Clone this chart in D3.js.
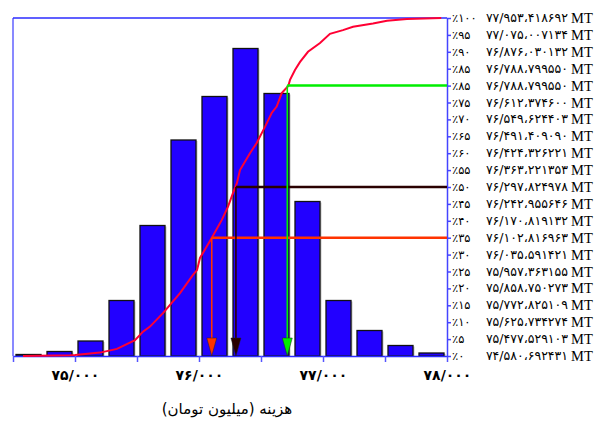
<!DOCTYPE html>
<html><head><meta charset="utf-8">
<script src="https://cdn.jsdelivr.net/npm/d3@7/dist/d3.min.js"></script>
<style>body{margin:0;background:#fff;} svg{display:block}</style>
</head><body>
<svg id="chart" width="602" height="423"></svg>
<script>
// ---- data ----
const binStart = [74500,74750,75000,75250,75500,75750,76000,76250,76500,76750,77000,77250,77500,77750];
const binEnd   = [74750,75000,75250,75500,75750,76000,76250,76500,76750,77000,77250,77500,77750,78000];
const binCount = [1,3,10,37,87,144,173,205,175,103,37,17,7,2];

const cdfCost = [74580.7,74960,75000,75201.6,75338.7,75483.9,75548.4,75604.8,75709.7,75846.8,75951.6,75983.9,76008,76102.4,76183,76233.9,76274,76306,76330.6,76411,76465,76532,76586,76626.5,76667,76720,76734,76774,76815,76879,76976,77056,77161,77242,77403,77516,77677,77953.4];
const cdfPct  = [0,0.2,0.3,1.0,2.1,4.7,7.2,8.7,12.7,18.6,24.0,25.4,29,34.9,40.2,44.2,48.2,51.2,55,60,63,67.8,71.9,73.8,77.8,79.9,81.7,84.6,87,90,92.6,95.3,96.4,97.4,98.4,99.2,99.7,100];

const pctLevels = [100,95,90,85,80,75,70,65,60,55,50,45,40,35,30,25,20,15,10,5,0];
const pctText   = [100,95,90,85,85,75,70,65,60,55,50,45,40,35,30,25,20,15,10,5,0];
const pctValue  = [77953.418692,77075.007134,76876.030132,76788.799550,76788.799550,76612.374600,76549.624403,76491.409090,76424.326221,76363.221353,76297.824978,76242.955646,76170.819132,76102.816963,76035.591421,75957.363155,75858.750273,75772.825109,75625.734274,75477.529103,74580.692431];

const markerPct   = [35,50,80];
const markerCost  = [76102.8,76297.8,76712];
const markerColor = ["#ff3300","#2a0000","#00ee00"];

const xTicks  = [74500,75000,75500,76000,76500,77000,77500,78000];
const xLabels = [75000,76000,77000,78000];
const xTitle  = "هزینه (میلیون تومان)";
const unitText = "MT";

// ---- helpers ----
const faDigits = "۰۱۲۳۴۵۶۷۸۹";
const fa = s => String(s).replace(/\d/g, d => faDigits[+d]);
const fmtVal = v => { const [i,f] = v.toFixed(6).split("."); return fa(i.slice(0,-3) + "/" + i.slice(-3) + "،" + f); };
const fmtX = d => fa(Math.floor(d/1000) + "/" + String(d%1000).padStart(3,"0"));

// ---- layout ----
const L = 13, R = 447, T = 18, B = 356;
const frameColor = "#2b2bff";
const svg = d3.select("#chart");
const x = d3.scaleLinear().domain([74500,78000]).range([L,R]);
const yP = d3.scaleLinear().domain([0,100]).range([B,T]);
const yC = d3.scaleLinear().domain([0,225.33]).range([B,T]);

// frame
svg.append("line").attr("x1",L).attr("x2",L).attr("y1",T).attr("y2",B)
  .attr("stroke","#6262ff").attr("stroke-width",1.5);
svg.append("line").attr("x1",L).attr("x2",R).attr("y1",T).attr("y2",T)
  .attr("stroke",frameColor).attr("stroke-width",1.5);

// bars
const bars = binStart.map((s,i)=>({s, e: binEnd[i], c: binCount[i]}));
svg.append("g").selectAll("rect.sh").data(bars).join("rect")
  .attr("x", d => x(d.s)+4.5).attr("y", d => yC(d.c)+1)
  .attr("width", d => x(d.e)-x(d.s)-6).attr("height", d => B-yC(d.c))
  .attr("fill","#c4c4c4");
svg.append("g").selectAll("rect.bar").data(bars).join("rect")
  .attr("x", d => x(d.s)+3).attr("y", d => yC(d.c))
  .attr("width", d => x(d.e)-x(d.s)-6).attr("height", d => B-yC(d.c))
  .attr("fill","#2200ff").attr("stroke","#111").attr("stroke-width",1.3);

// bottom axis
const gx = svg.append("g").attr("transform",`translate(0,${B})`)
  .call(d3.axisBottom(x).tickValues(xTicks).tickSize(6).tickSizeOuter(0)
    .tickFormat(d => xLabels.includes(d) ? fmtX(d) : ""));
gx.select(".domain").attr("stroke",frameColor).attr("stroke-width",1.5);
gx.selectAll(".tick line").attr("stroke","#5555ff").attr("stroke-width",1.5);
gx.selectAll(".tick text").attr("font-family","DejaVu Sans").attr("font-size",14)
  .attr("font-weight","bold").attr("fill","#000").attr("dy","1.05em").attr("letter-spacing","1.5px");

// right axis
const gy = svg.append("g").attr("transform",`translate(${R},0)`)
  .call(d3.axisRight(yP).tickValues(pctLevels).tickSize(4).tickSizeOuter(0).tickFormat(""));
gy.select(".domain").attr("stroke","#4444ff").attr("stroke-width",1.5);
gy.selectAll(".tick line").attr("stroke","#4444ff").attr("stroke-width",1.5);

// cdf curve
const line = d3.line().x(d => x(d[0])).y(d => yP(d[1]));
svg.append("path").datum(cdfCost.map((c,i)=>[c,cdfPct[i]]))
  .attr("d", line).attr("fill","none").attr("stroke","#ff0033").attr("stroke-width",2);

// markers
markerPct.forEach((p,i) => {
  const mx = x(markerCost[i]), my = yP(p), col = markerColor[i];
  svg.append("line").attr("x1",mx).attr("x2",R).attr("y1",my).attr("y2",my)
    .attr("stroke",col).attr("stroke-width",2.5);
  svg.append("line").attr("x1",mx).attr("x2",mx).attr("y1",my).attr("y2",B-14)
    .attr("stroke",col).attr("stroke-width",1.6);
  svg.append("path").attr("d",`M${mx-5},${B-18} L${mx+5},${B-18} L${mx},${B} Z`)
    .attr("fill",col).attr("stroke","#222").attr("stroke-width",0.5);
});

// right labels
const rl = svg.append("g");
pctLevels.forEach((lv,i) => {
  const yy = yP(lv) + 4;
  rl.append("text").attr("x",452).attr("y",yy).attr("font-family","DejaVu Sans")
    .attr("font-size",11.5).text("٪" + fa(pctText[i]));
  rl.append("text").attr("x",568).attr("y",yy).attr("text-anchor","end")
    .attr("font-family","DejaVu Sans").attr("font-size",12.5).text(fmtVal(pctValue[i]));
  rl.append("text").attr("x",571).attr("y",yy+1).attr("font-family","Liberation Serif")
    .attr("font-size",14.5).text(unitText);
});

// title
svg.append("text").attr("x",227).attr("y",414).attr("text-anchor","middle")
  .attr("direction","rtl").attr("font-family","DejaVu Sans").attr("font-size",15)
  .text(xTitle);
</script>
</body></html>
